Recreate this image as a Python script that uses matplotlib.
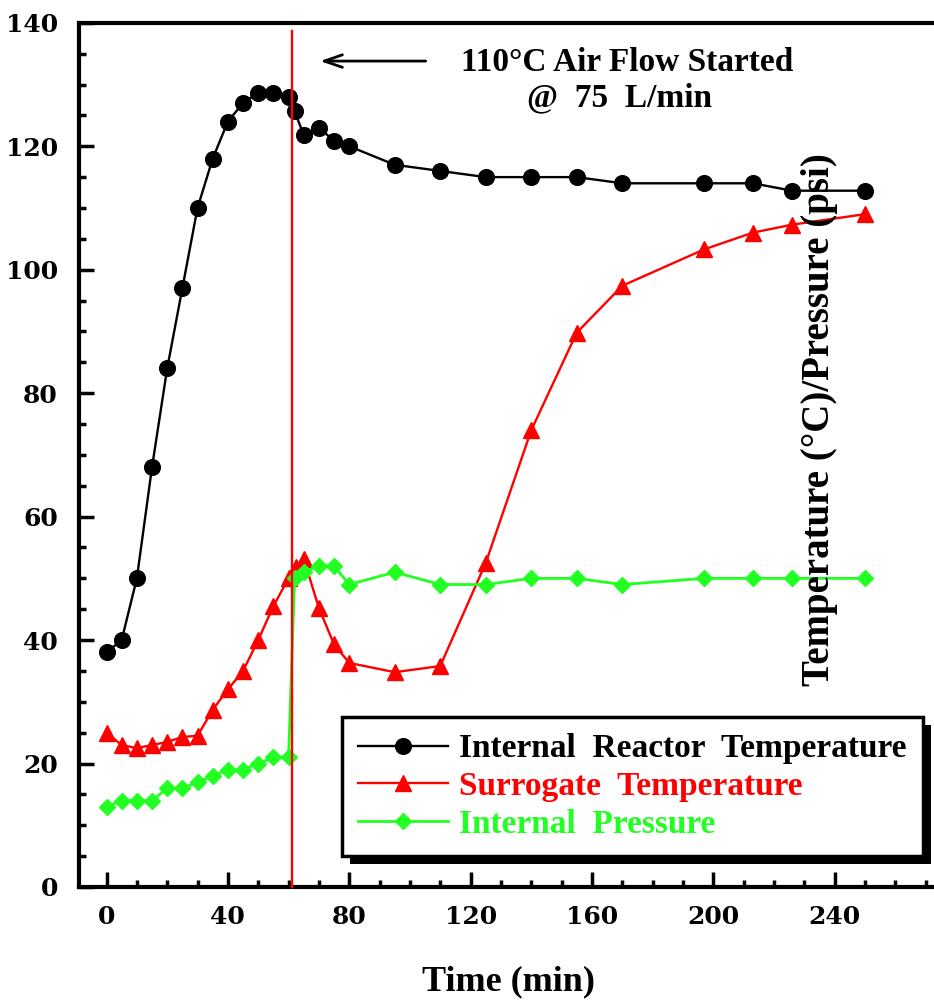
import matplotlib
matplotlib.use("Agg")
import matplotlib.pyplot as plt
from matplotlib.lines import Line2D
from matplotlib.patches import Rectangle
from matplotlib.transforms import IdentityTransform
from matplotlib.font_manager import FontProperties

# ---- data -------------------------------------------------------------
time_reactor = [0, 5, 10, 15, 20, 25, 30, 35, 40, 45, 50, 55, 60, 62, 65, 70,
                75, 80, 95, 110, 125, 140, 155, 170, 197, 213, 226, 250]
temp_reactor = [38, 40, 50, 68, 84, 97, 110, 118, 124, 127, 128.7, 128.7, 128,
                125.7, 121.8, 123, 120.9, 120, 117, 116, 115, 115, 115, 114,
                114, 114, 112.8, 112.8]

time_surrogate = [0, 5, 10, 15, 20, 25, 30, 35, 40, 45, 50, 55, 60, 62.5, 65,
                  70, 75, 80, 95, 110, 125, 140, 155, 170, 197, 213, 226, 250]
temp_surrogate = [25, 23, 22.5, 23, 23.5, 24.3, 24.5, 28.7, 32, 35, 40, 45.5,
                  50, 51.8, 53.2, 45.2, 39.3, 36.3, 34.8, 35.8, 52.5, 74, 89.8,
                  97.4, 103.3, 106, 107.3, 109]

time_pressure = [0, 5, 10, 15, 20, 25, 30, 35, 40, 45, 50, 55, 60, 62, 65, 70,
                 75, 80, 95, 110, 125, 140, 155, 170, 197, 213, 226, 250]
pressure = [13, 14, 14, 14, 16, 16, 17, 18, 19, 19, 20, 21, 21, 50, 51, 52, 52,
            49, 51, 49, 49, 50, 50, 49, 50, 50, 50, 50]

series_labels = ["Internal  Reactor  Temperature",
                 "Surrogate  Temperature",
                 "Internal  Pressure"]
x_ticks = [0, 40, 80, 120, 160, 200, 240]
y_ticks = [0, 20, 40, 60, 80, 100, 120, 140]

air_flow_start = 61
annotation_lines = ["110°C Air Flow Started", "@  75  L/min"]

# ---- styling ----------------------------------------------------------
BLACK = "#000000"
RED = "#ff0000"
GREEN = "#22ff22"

text_font = FontProperties(family="Liberation Serif", weight="bold", size=24)
title_font = FontProperties(family="Liberation Serif", weight="bold", size=26)
ylabel_font = FontProperties(family="Liberation Serif", weight="bold", size=28)
tick_font = FontProperties(family="DejaVu Serif", weight="bold", size=18)

fig = plt.figure(figsize=(9.34, 10.01), dpi=100)
W, H = 934, 1001
left_px, right_px, top_px, bottom_px = 78.7, 934, 22.8, 887
ax = fig.add_axes([left_px / W, (H - bottom_px) / H,
                   (right_px - left_px) / W, (bottom_px - top_px) / H])
ax.patch.set_visible(False)

# x scale: 0 at 106.5 px, 3.034 px per minute
ax.set_xlim(-(106.5 - left_px) / 3.034, (right_px - 106.5) / 3.034)
ax.set_ylim(0, 140)

ax.plot(time_reactor, temp_reactor, color=BLACK, lw=1.7, marker="o",
        markersize=11.3, zorder=3)
ax.plot(time_surrogate, temp_surrogate, color=RED, lw=1.7, marker="^",
        markersize=11.8, zorder=3)
ax.plot(time_pressure, pressure, color=GREEN, lw=2.0, marker="D",
        markersize=8.3, zorder=3)

# air flow start marker
ax.plot([air_flow_start, air_flow_start], [0, 138.7], color=RED, lw=1.7,
        zorder=4, clip_on=False)

# spines and ticks
ax.spines["right"].set_visible(False)
for side in ("left", "bottom", "top"):
    ax.spines[side].set_linewidth(3.0)
ax.set_xticks(x_ticks)
ax.set_yticks(y_ticks)
ax.set_xticks(range(0, 280, 10), minor=True)
ax.set_yticks(range(0, 141, 5), minor=True)
ax.tick_params(which="both", direction="in", top=False, right=False,
               width=2.5)
ax.tick_params(which="major", length=11)
ax.tick_params(which="minor", length=5)
ax.tick_params(axis="y", pad=15)
ax.tick_params(axis="x", pad=13)
for lab in ax.get_xticklabels() + ax.get_yticklabels():
    lab.set_fontproperties(tick_font)

# annotation
ax.annotate("", xy=(70.4, 133.8), xytext=(105.2, 133.8),
            arrowprops=dict(arrowstyle="->,head_length=1.3,head_width=0.45",
                            lw=2.0, color=BLACK, shrinkA=0, shrinkB=0))
ax.text(171.6, 132.2, annotation_lines[0], ha="center", va="baseline",
        fontproperties=text_font)
ax.text(169.2, 126.4, annotation_lines[1], ha="center", va="baseline",
        fontproperties=text_font)

# axis titles
fig.text(509 / W, 1 - 982 / H, "Time (min)", ha="center", va="center",
         fontproperties=title_font)
fig.text(819 / W, 1 - 420 / H, "Temperature (°C)/Pressure (psi)",
         ha="center", va="center", rotation=90, fontproperties=ylabel_font)

# legend
handles = [
    Line2D([], [], color=BLACK, lw=1.7, marker="o", markersize=11.3),
    Line2D([], [], color=RED, lw=1.7, marker="^", markersize=11.8),
    Line2D([], [], color=GREEN, lw=2.0, marker="D", markersize=8.3),
]
leg = ax.legend(handles, series_labels, loc="upper left",
                bbox_to_anchor=(341.5 / W, 1 - 716.7 / H),
                bbox_transform=fig.transFigure, borderaxespad=0,
                frameon=True, fancybox=False, framealpha=1,
                edgecolor=BLACK, prop=text_font, handlelength=2.7,
                handletextpad=0.32, labelspacing=0.2, borderpad=0.5,
                labelcolor="linecolor")
leg.get_frame().set_linewidth(2.5)
leg.set_zorder(6)

fig.canvas.draw()
bb = leg.get_frame().get_window_extent()
shadow = Rectangle((bb.x0 + 8, bb.y0 - 8), bb.width, bb.height,
                   transform=IdentityTransform(), facecolor=BLACK,
                   edgecolor="none", zorder=5.5, clip_on=False)
ax.add_artist(shadow)

fig.savefig("out.png", dpi=100)
